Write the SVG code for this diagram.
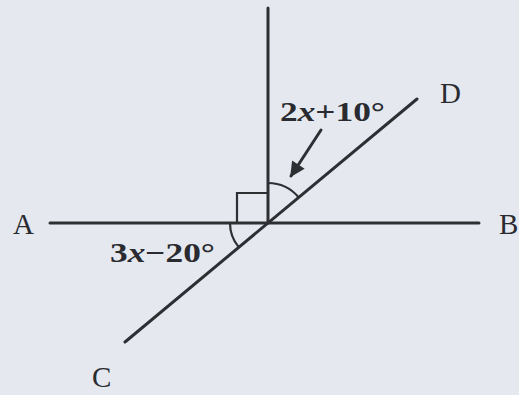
<svg xmlns="http://www.w3.org/2000/svg" width="519" height="395" viewBox="0 0 519 395">
<defs>
<style>
.ln{stroke:#2e2f33;stroke-width:3;fill:none;stroke-linecap:round}
.thin{stroke:#2e2f33;stroke-width:2.2;fill:none}
.lbl{font-family:"Liberation Serif",serif;fill:#2a2b30}
.pt{font-size:29px}
.ang{font-size:28px;font-weight:bold}
</style>
<marker id="ah" viewBox="0 0 10 10" refX="9" refY="5" markerWidth="6" markerHeight="5" orient="auto" markerUnits="strokeWidth">
<path d="M0,0 L10,5 L0,10 Z" fill="#2e2f33"/>
</marker>
</defs>
<rect width="519" height="395" fill="#e5e9ef"/>
<g id="connectors">
<line class="ln" x1="50" y1="223" x2="479" y2="223"/>
<line class="ln" x1="268" y1="8" x2="268" y2="223"/>
<line class="ln" x1="125" y1="342" x2="417" y2="99"/>
<path class="thin" d="M237,223 V193 H268"/>
<path class="thin" d="M268,183 A40,40 0 0 1 298.6,197.3"/>
<path class="thin" d="M230,223 A38,38 0 0 0 238.9,247.4"/>
<line class="ln" x1="321" y1="130" x2="291" y2="176" marker-end="url(#ah)"/>
</g>
<g id="A"><text class="lbl pt" x="13" y="234">A</text></g>
<g id="B"><text class="lbl pt" x="499" y="234">B</text></g>
<g id="C"><text class="lbl pt" x="92" y="387">C</text></g>
<g id="D"><text class="lbl pt" x="440" y="103">D</text></g>
<g id="angle-top"><text class="lbl ang" x="280" y="121" textLength="105" lengthAdjust="spacingAndGlyphs">2<tspan font-style="italic">x</tspan>+10°</text></g>
<g id="angle-bottom"><text class="lbl ang" x="110" y="262" textLength="105" lengthAdjust="spacingAndGlyphs">3<tspan font-style="italic">x</tspan>−20°</text></g>
</svg>
